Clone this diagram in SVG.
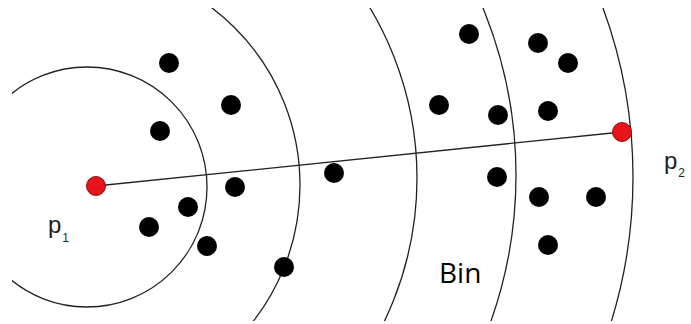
<svg xmlns="http://www.w3.org/2000/svg" width="691" height="324" viewBox="0 0 691 324">
<style>
.ring{fill:none;stroke:#222;stroke-width:1.3}
.pt{fill:#000}
.key{fill:#e8141b;stroke:#8a1010;stroke-width:1}
.lbl{font-family:"Liberation Sans",Arial,sans-serif;fill:#222;font-size:24px}
.sub{font-size:12px}
.bin{font-family:"Open Sans","Liberation Sans",sans-serif;font-size:28px;fill:#000}
</style>
<defs>
<clipPath id="frame"><rect x="12" y="8" width="679" height="313"/></clipPath>
</defs>
<rect width="691" height="324" fill="#fff"/>
<g id="rings" clip-path="url(#frame)">
<circle class="ring" cx="87" cy="187" r="120"/>
<circle class="ring" cx="78" cy="185" r="222"/>
<circle class="ring" cx="86" cy="178" r="331"/>
<circle class="ring" cx="77" cy="175" r="439"/>
<circle class="ring" cx="142" cy="177" r="491"/>
</g>
<g id="connectors">
<line x1="96" y1="186" x2="622" y2="132" stroke="#222" stroke-width="1.3"/>
</g>
<g id="points">
<circle class="pt" cx="169" cy="63" r="10"/>
<circle class="pt" cx="231" cy="105" r="10"/>
<circle class="pt" cx="160" cy="131" r="10"/>
<circle class="pt" cx="235" cy="187" r="10"/>
<circle class="pt" cx="188" cy="207" r="10"/>
<circle class="pt" cx="149" cy="227" r="10"/>
<circle class="pt" cx="207" cy="246" r="10"/>
<circle class="pt" cx="284" cy="267" r="10"/>
<circle class="pt" cx="334" cy="173" r="10"/>
<circle class="pt" cx="469" cy="34" r="10"/>
<circle class="pt" cx="538" cy="43" r="10"/>
<circle class="pt" cx="568" cy="63" r="10"/>
<circle class="pt" cx="439" cy="105" r="10"/>
<circle class="pt" cx="498" cy="115" r="10"/>
<circle class="pt" cx="548" cy="111" r="10"/>
<circle class="pt" cx="497" cy="177" r="10"/>
<circle class="pt" cx="539" cy="197" r="10"/>
<circle class="pt" cx="596" cy="197" r="10"/>
<circle class="pt" cx="548" cy="245" r="10"/>
</g>
<g id="p1">
<circle class="key" cx="96" cy="186" r="9.5"/>
<text class="lbl" x="48" y="233">p<tspan class="sub" dx="1" dy="9">1</tspan></text>
</g>
<g id="p2">
<circle class="key" cx="622" cy="132" r="9.5"/>
<text class="lbl" x="664" y="169">p<tspan class="sub" dx="1" dy="8">2</tspan></text>
</g>
<g id="bin">
<text class="bin" x="439" y="283">Bin</text>
</g>
</svg>
